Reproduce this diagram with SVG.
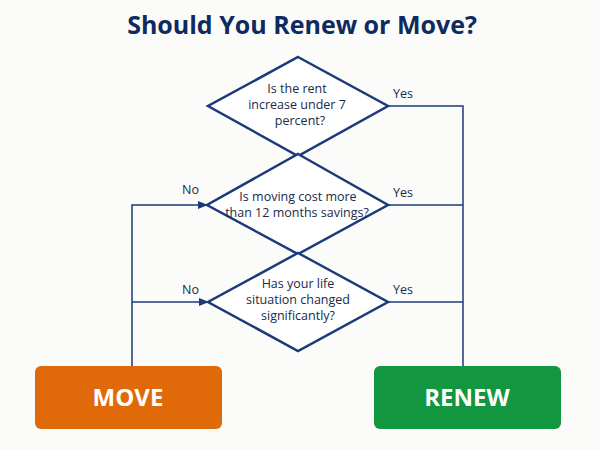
<svg xmlns="http://www.w3.org/2000/svg" width="600" height="450" viewBox="0 0 600 450">
<style>
.bg{fill:#fbfbf9}
.title{font-family:"Open Sans","Liberation Sans",sans-serif;font-weight:700;font-size:25px;fill:#0f2a5c;text-anchor:middle}
.dia{fill:#ffffff;stroke:#1b3a7a;stroke-width:2.5;stroke-linejoin:miter}
.q{font-family:"Open Sans","Liberation Sans",sans-serif;font-size:12.5px;fill:#1a2a4a;text-anchor:middle}
.lbl{font-family:"Open Sans","Liberation Sans",sans-serif;font-size:12.5px;fill:#1a2a4a}
.conn{fill:none;stroke:#1b3a7a;stroke-width:1.5}
.btn{font-family:"Open Sans","Liberation Sans",sans-serif;font-weight:700;font-size:24px;fill:#ffffff;text-anchor:middle}
</style>
<defs>
<marker id="arr" markerWidth="10" markerHeight="10" refX="9" refY="5" orient="auto" markerUnits="userSpaceOnUse">
<path d="M0,1 L10,5 L0,9 Z" fill="#1b3a7a"/>
</marker>
</defs>
<rect class="bg" x="0" y="0" width="600" height="450"/>
<text class="title" x="302" y="34">Should You Renew or Move?</text>
<g id="connectors">
<polyline class="conn" points="388,106 463,106 463,367"/>
<line class="conn" x1="388" y1="205" x2="463" y2="205"/>
<line class="conn" x1="388" y1="302" x2="463" y2="302"/>
<polyline class="conn" points="132,366 132,205 207,205" marker-end="url(#arr)"/>
<line class="conn" x1="132" y1="302" x2="208" y2="302" marker-end="url(#arr)"/>
<text class="lbl" x="393" y="98">Yes</text>
<text class="lbl" x="393" y="197">Yes</text>
<text class="lbl" x="393" y="294">Yes</text>
<text class="lbl" x="182" y="194">No</text>
<text class="lbl" x="182" y="294">No</text>
</g>
<g id="q1">
<polygon class="dia" points="298,57 388,106 298,156 208,106"/>
<text class="q" x="297" y="93">Is the rent</text>
<text class="q" x="297" y="109">increase under 7</text>
<text class="q" x="300" y="125">percent?</text>
</g>
<g id="q2">
<polygon class="dia" points="298,154 388,205 298,254 207,205"/>
<text class="q" x="298" y="201">Is moving cost more</text>
<text class="q" x="297" y="217">than 12 months savings?</text>
</g>
<g id="q3">
<polygon class="dia" points="298,253 388,302 298,351 208,302"/>
<text class="q" x="298" y="288">Has your life</text>
<text class="q" x="298" y="304">situation changed</text>
<text class="q" x="298" y="320">significantly?</text>
</g>
<g id="move">
<rect x="35" y="366" width="187" height="63" rx="6" fill="#e0690a"/>
<text class="btn" x="128" y="406">MOVE</text>
</g>
<g id="renew">
<rect x="374" y="366" width="187" height="63" rx="6" fill="#12963f"/>
<text class="btn" x="467" y="406">RENEW</text>
</g>
</svg>
